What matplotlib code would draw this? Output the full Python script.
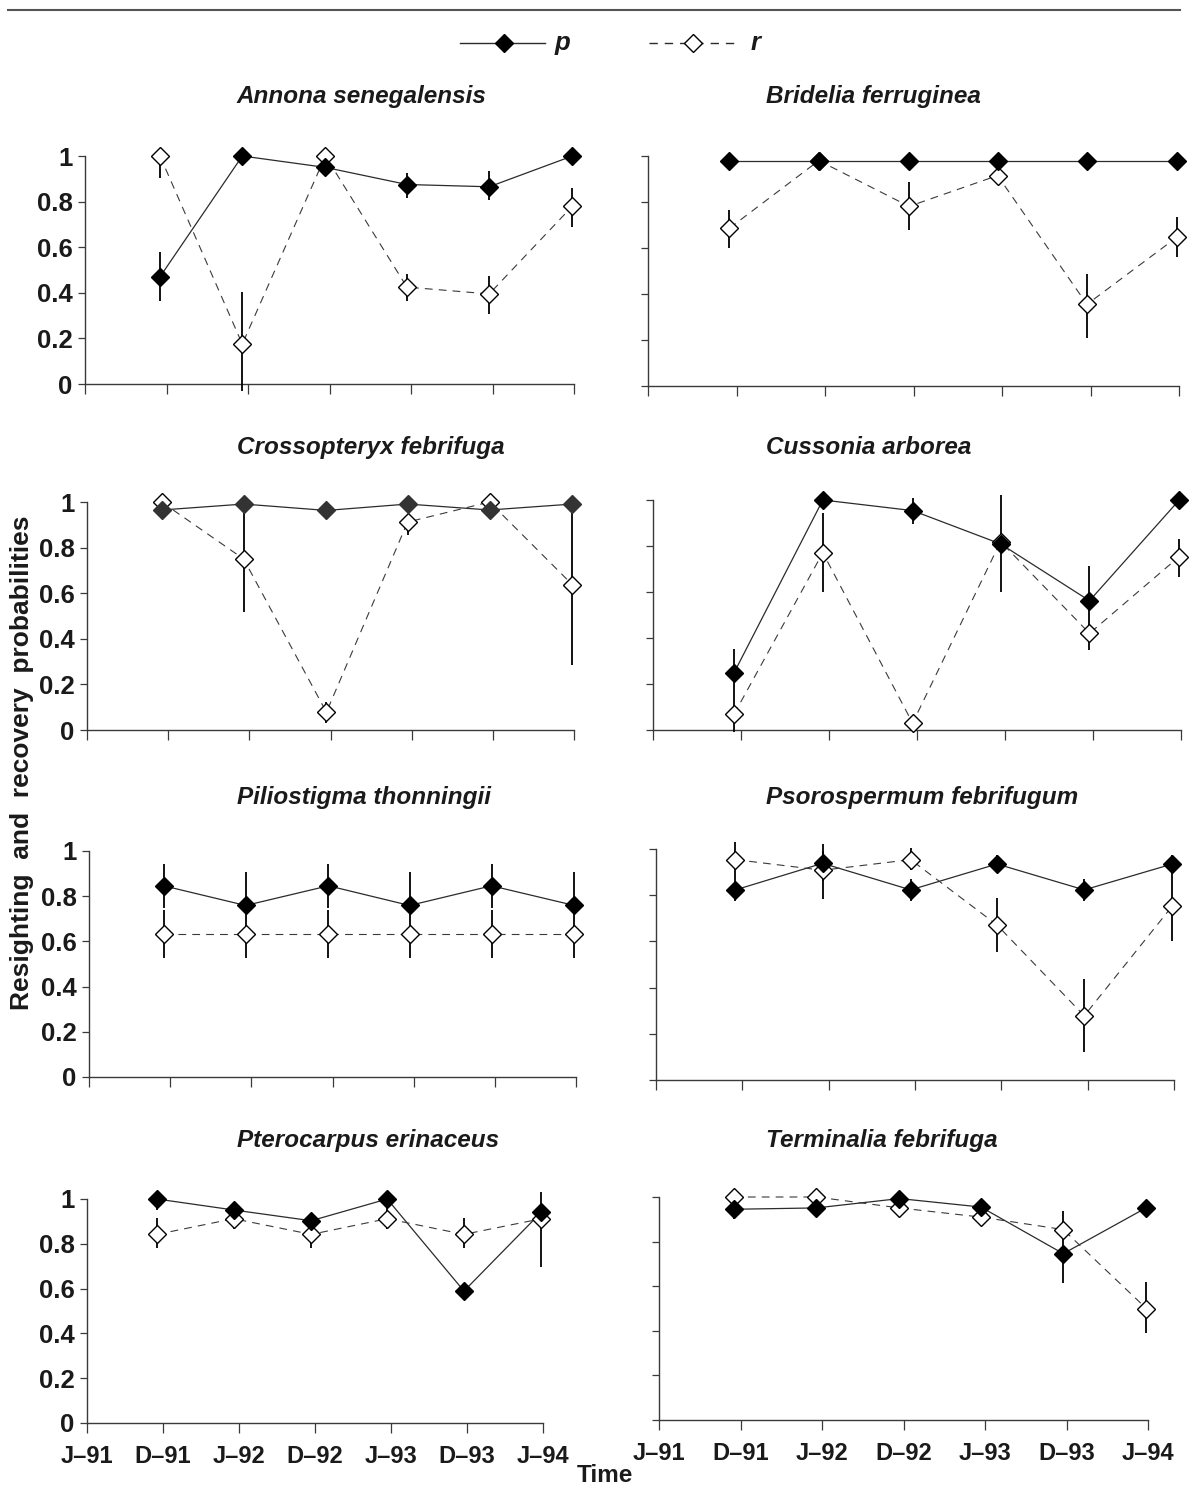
import numpy as np
import matplotlib
matplotlib.use("Agg")
import matplotlib.pyplot as plt
from matplotlib.lines import Line2D

plt.rcParams['font.family'] = ['Liberation Sans', 'DejaVu Sans']

nan = np.nan

# ---------------- data ----------------
time_labels = ['J–91', 'D–91', 'J–92', 'D–92', 'J–93', 'D–93', 'J–94']
time_pos = [0.92, 1.93, 2.95, 3.95, 4.96, 5.98]
y_ticks = [0, 0.2, 0.4, 0.6, 0.8, 1]
y_tick_labels = ['0', '0.2', '0.4', '0.6', '0.8', '1']

species = ['Annona senegalensis', 'Bridelia ferruginea',
           'Crossopteryx febrifuga', 'Cussonia arborea',
           'Piliostigma thonningii', 'Psorospermum febrifugum',
           'Pterocarpus erinaceus', 'Terminalia febrifuga']

# resighting probability p, recovery probability r, and error bar bounds
p_annona = [0.47, 1.0, 0.95, 0.875, 0.865, 1.0]
p_lo_annona = [0.365, nan, nan, 0.816, 0.806, nan]
p_hi_annona = [0.579, nan, nan, 0.925, 0.933, nan]
r_annona = [1.0, 0.175, 1.0, 0.425, 0.395, 0.78]
r_lo_annona = [0.902, -0.03, nan, 0.365, 0.307, 0.69]
r_hi_annona = [1.0, 0.405, nan, 0.484, 0.475, 0.858]

p_bridelia = [0.98, 0.98, 0.98, 0.98, 0.98, 0.98]
p_lo_bridelia = [nan, nan, nan, nan, nan, nan]
p_hi_bridelia = [nan, nan, nan, nan, nan, nan]
r_bridelia = [0.686, 0.98, 0.781, 0.915, 0.355, 0.648]
r_lo_bridelia = [0.599, nan, 0.677, nan, 0.21, 0.56]
r_hi_bridelia = [0.764, nan, 0.887, nan, 0.489, 0.735]

p_crosso = [0.965, 0.991, 0.963, 0.991, 0.965, 0.991]
p_lo_crosso = [nan, nan, nan, nan, nan, nan]
p_hi_crosso = [nan, nan, nan, nan, nan, nan]
r_crosso = [1.0, 0.75, 0.078, 0.912, 1.0, 0.637]
r_lo_crosso = [nan, 0.517, 0.029, 0.857, nan, 0.285]
r_hi_crosso = [nan, 0.99, 0.124, 0.94, nan, 0.99]

p_cussonia = [0.248, 1.0, 0.954, 0.809, 0.562, 1.0]
p_lo_cussonia = [0.14, nan, 0.894, 0.599, 0.47, nan]
p_hi_cussonia = [0.352, nan, 1.01, 1.02, 0.714, nan]
r_cussonia = [0.068, 0.771, 0.03, 0.819, 0.42, 0.754]
r_lo_cussonia = [-0.01, 0.599, nan, nan, 0.348, 0.667]
r_hi_cussonia = [0.14, 0.943, nan, nan, 0.47, 0.83]

p_pilio = [0.846, 0.759, 0.846, 0.759, 0.846, 0.759]
p_lo_pilio = [0.749, 0.745, 0.749, 0.745, 0.749, 0.745]
p_hi_pilio = [0.943, 0.906, 0.943, 0.906, 0.943, 0.906]
r_pilio = [0.634, 0.634, 0.634, 0.634, 0.634, 0.634]
r_lo_pilio = [0.526, 0.526, 0.526, 0.526, 0.526, 0.526]
r_hi_pilio = [0.741, 0.741, 0.741, 0.741, 0.741, 0.741]

p_psoro = [0.823, 0.938, 0.823, 0.935, 0.823, 0.935]
p_lo_psoro = [0.774, 0.86, 0.774, 0.896, 0.774, 0.85]
p_hi_psoro = [0.87, 1.023, 0.872, 0.973, 0.872, 0.973]
r_psoro = [0.954, 0.908, 0.954, 0.671, 0.278, 0.753]
r_lo_psoro = [0.87, 0.784, 0.908, 0.555, 0.121, 0.603]
r_hi_psoro = [1.03, 0.99, 1.003, 0.787, 0.436, 0.85]

p_ptero = [1.0, 0.951, 0.903, 1.0, 0.589, 0.942]
p_lo_ptero = [0.95, nan, nan, 0.95, nan, 0.696]
p_hi_ptero = [1.0, nan, nan, 1.0, nan, 1.03]
r_ptero = [0.842, 0.912, 0.842, 0.912, 0.842, 0.912]
r_lo_ptero = [0.783, 0.865, 0.783, 0.865, 0.783, nan]
r_hi_ptero = [0.914, 0.95, 0.9, 0.95, 0.914, nan]

p_termin = [0.945, 0.951, 0.993, 0.955, 0.746, 0.952]
p_lo_termin = [0.903, nan, nan, nan, 0.616, nan]
p_hi_termin = [0.96, nan, nan, nan, 0.80, nan]
r_termin = [1.0, 1.0, 0.951, 0.91, 0.854, 0.5]
r_lo_termin = [nan, nan, nan, nan, 0.80, 0.391]
r_hi_termin = [nan, nan, nan, nan, 0.936, 0.619]

p_all = [p_annona, p_bridelia, p_crosso, p_cussonia, p_pilio, p_psoro, p_ptero, p_termin]
p_lo_all = [p_lo_annona, p_lo_bridelia, p_lo_crosso, p_lo_cussonia, p_lo_pilio, p_lo_psoro, p_lo_ptero, p_lo_termin]
p_hi_all = [p_hi_annona, p_hi_bridelia, p_hi_crosso, p_hi_cussonia, p_hi_pilio, p_hi_psoro, p_hi_ptero, p_hi_termin]
r_all = [r_annona, r_bridelia, r_crosso, r_cussonia, r_pilio, r_psoro, r_ptero, r_termin]
r_lo_all = [r_lo_annona, r_lo_bridelia, r_lo_crosso, r_lo_cussonia, r_lo_pilio, r_lo_psoro, r_lo_ptero, r_lo_termin]
r_hi_all = [r_hi_annona, r_hi_bridelia, r_hi_crosso, r_hi_cussonia, r_hi_pilio, r_hi_psoro, r_hi_ptero, r_hi_termin]

# ---------------- layout ----------------
W, H = 1193, 1491
fig = plt.figure(figsize=(W / 100, H / 100), dpi=100)

# panel boxes in pixels: (x_left, x_right, y_top, y_bottom)
boxes = [(85, 574, 156, 384), (648, 1179, 156, 386),
         (87, 574, 502, 730), (653, 1181, 500, 730),
         (89, 576, 851, 1077), (656, 1174, 849, 1080),
         (87, 543, 1199, 1423), (659, 1148, 1197, 1420)]
title_y = [97, 97, 447, 447, 798, 798, 1140, 1140]
title_x = [237, 766]
p_face = ['black', 'black', '#333333', 'black', 'black', 'black', 'black', 'black']

line_col = '#2b2b2b'
spine_col = '#3a3a3a'
text_col = '#1a1a1a'
ms = 9.5

for i, (x0, x1, yt, yb) in enumerate(boxes):
    ax = fig.add_axes([x0 / W, 1 - yb / H, (x1 - x0) / W, (yb - yt) / H])
    ax.set_xlim(0, 6)
    ax.set_ylim(0, 1)
    for s in ['top', 'right']:
        ax.spines[s].set_visible(False)
    for s in ['left', 'bottom']:
        ax.spines[s].set_color(spine_col)
        ax.spines[s].set_linewidth(1.0)
    ax.set_xticks(range(7))
    ax.set_yticks(y_ticks)
    ax.tick_params(axis='y', direction='out', length=5, width=0.9, color=spine_col, pad=4)
    ax.tick_params(axis='x', direction='out', length=7, width=0.9, color=spine_col, pad=9)
    col = i % 2
    row = i // 2
    if col == 0:
        ax.set_yticklabels(y_tick_labels, fontsize=18.5, fontweight='bold', color=text_col)
    else:
        ax.set_yticklabels([])
    if row == 3:
        ax.set_xticklabels(time_labels, fontsize=17, fontweight='bold', color=text_col)
    else:
        ax.set_xticklabels([])
    ax.patch.set_alpha(0)

    p = np.array(p_all[i]); plo = np.array(p_lo_all[i]); phi = np.array(p_hi_all[i])
    r = np.array(r_all[i]); rlo = np.array(r_lo_all[i]); rhi = np.array(r_hi_all[i])
    xs = np.array(time_pos)

    ax.plot(xs, p, '-', color=line_col, lw=0.9, zorder=2, clip_on=False)
    ax.plot(xs, r, color='#3a3a3a', lw=0.8, ls=(0, (7, 5.5)), zorder=2, clip_on=False)
    ax.vlines(xs, plo, phi, color='black', lw=1.3, zorder=3, clip_on=False)
    ax.vlines(xs, rlo, rhi, color='black', lw=1.3, zorder=3, clip_on=False)
    ax.plot(xs, p, 'D', ms=ms, mfc=p_face[i], mec=p_face[i], mew=1, ls='none', zorder=5, clip_on=False)
    ax.plot(xs, r, 'D', ms=ms, mfc='white', mec='black', mew=1, ls='none', zorder=4, clip_on=False)

    fig.text(title_x[col] / W, 1 - title_y[i] / H, species[i], fontsize=17.5,
             fontweight='bold', fontstyle='italic', ha='left', va='center', color=text_col)

# top rule
fig.add_artist(Line2D([8 / W, 1180 / W], [1 - 10 / H, 1 - 10 / H], color='#555555', lw=1.5))

# legend
ly = 1 - 43 / H
fig.add_artist(Line2D([460 / W, 545 / W], [ly, ly], color=line_col, lw=1.0))
fig.add_artist(Line2D([504 / W], [ly], marker='D', ms=ms, mfc='black', mec='black', ls='none'))
fig.text(555 / W, ly, 'p', fontsize=18.5, fontweight='bold', fontstyle='italic', ha='left', va='center',
         color=text_col)
fig.add_artist(Line2D([649 / W, 738 / W], [ly, ly], color=line_col, lw=1.0, ls=(0, (6, 5))))
fig.add_artist(Line2D([693 / W], [ly], marker='D', ms=ms, mfc='white', mec='black', ls='none'))
fig.text(751 / W, ly, 'r', fontsize=18.5, fontweight='bold', fontstyle='italic', ha='left', va='center',
         color=text_col)

# axis labels
fig.text(22 / W, 1 - 763 / H, 'Resighting  and  recovery  probabilities', rotation=90,
         fontsize=19, fontweight='bold', ha='center', va='center', color=text_col)
fig.text(605 / W, 1 - 1476 / H, 'Time', fontsize=17.5, fontweight='bold', ha='center', va='center',
         color=text_col)

fig.savefig('out.png', dpi=100)
